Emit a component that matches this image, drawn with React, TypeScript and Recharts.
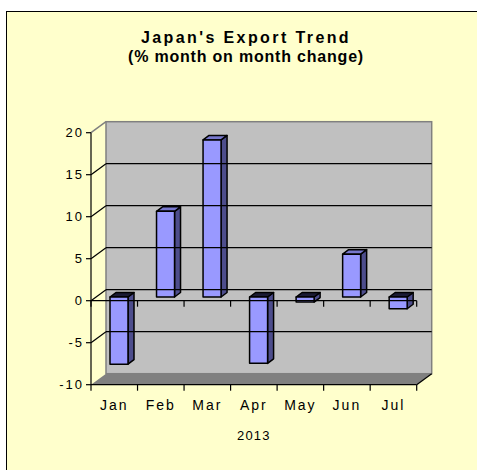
import { BarChart, Bar, XAxis, YAxis, ReferenceArea, ReferenceLine } from "recharts";

const months = ["Jan", "Feb", "Mar", "Apr", "May", "Jun", "Jul"];
const exportChange = [-8.0, 10.2, 18.7, -7.9, -0.6, 5.1, -1.4];
const yTicks = [-10, -5, 0, 5, 10, 15, 20];
const gridValues = [-5, 0, 5, 10, 15];
const edgeTicks = [0, 1, 2, 3, 4, 5, 6, 7];
const xTitle = "2013";

const data = months.map((m, i) => ({ month: m, value: exportChange[i] }));

// depth of the 3d box (back wall offset) and of each bar
const DX = 15;
const DY = -11;
const BAR_SHIFT_X = 5;
const BAR_SHIFT_Y = -3.7;
const BAR_DX = 6;
const BAR_DY = -4.5;

const font = "'Liberation Sans', Arial, sans-serif";

function BackWall(p: any) {
  const { x, y, width, height } = p;
  const b = y + height;
  return (
    <g>
      <rect x={x + DX} y={y + DY} width={width} height={height} fill="#C0C0C0" stroke="#808080" strokeWidth={1.5} />
      <polygon
        points={`${x},${b} ${x + width},${b} ${x + width + DX},${b + DY} ${x + DX},${b + DY}`}
        fill="#808080"
      />
      <line x1={x} y1={y} x2={x + DX} y2={y + DY} stroke="#808080" strokeWidth={1.5} />
      <line x1={x + width} y1={b} x2={x + width + DX} y2={b + DY} stroke="#000" strokeWidth={1.2} />
    </g>
  );
}

function GridLine(p: any) {
  const { x1, y1, x2, y2 } = p;
  return (
    <g>
      <line x1={x1 + DX} y1={y1 + DY} x2={x2 + DX} y2={y2 + DY} stroke="#000" strokeWidth={1.2} />
      <line x1={x1} y1={y1} x2={x1 + DX} y2={y1 + DY} stroke="#000" strokeWidth={1.2} />
    </g>
  );
}

function EdgeTick(p: any) {
  const { x1, y1 } = p;
  return <line x1={x1} y1={y1} x2={x1} y2={y1 + 6} stroke="#000" strokeWidth={1.2} />;
}

function Bar3D(p: any) {
  const { x, y, width, height, value } = p;
  const top = Math.min(y, y + height) + BAR_SHIFT_Y;
  const h = Math.abs(height);
  const l = x + BAR_SHIFT_X;
  const r = l + width;
  const neg = value < 0;
  return (
    <g stroke="#000" strokeWidth={1.5} strokeLinejoin="round">
      <polygon
        points={`${r},${top} ${r + BAR_DX},${top + BAR_DY} ${r + BAR_DX},${top + h + BAR_DY} ${r},${top + h}`}
        fill="#4D4D8C"
      />
      <polygon
        points={`${l},${top} ${l + BAR_DX},${top + BAR_DY} ${r + BAR_DX},${top + BAR_DY} ${r},${top}`}
        fill={neg ? "#1A1A33" : "#7777CC"}
      />
      <rect x={l} y={top} width={width} height={h} fill="#9999FF" />
    </g>
  );
}

export default function App() {
  return (
    <div style={{ position: "absolute", left: 0, top: 0, width: 477, height: 470, overflow: "hidden", fontFamily: font }}>
      <div
        style={{
          position: "absolute",
          left: 6,
          top: 11,
          width: 500,
          height: 500,
          background: "#FFFFCC",
          border: "1px solid #000",
        }}
      />
      <div style={{ position: "absolute", left: 0, width: 492, top: 28, textAlign: "center", fontWeight: "bold", fontSize: 16, lineHeight: "19px", color: "#000" }}>
        <div style={{ letterSpacing: 2.4 }}>Japan's Export Trend</div>
        <div style={{ letterSpacing: 0.8 }}>(% month on month change)</div>
      </div>
      <div style={{ position: "absolute", left: 0, top: 0 }}>
        <BarChart
          width={477}
          height={470}
          data={data}
          margin={{ top: 132.7, right: 60.3, bottom: 25.3, left: 51 }}
        >
          <XAxis xAxisId="a" type="number" dataKey="edge" domain={[0, 7]} height={0} allowDataOverflow hide />
          <XAxis
            xAxisId="b"
            dataKey="month"
            height={60}
            axisLine={false}
            tickLine={false}
            tickSize={0}
            tickMargin={15}
            interval={0}
            tick={{ fill: "#000", fontSize: 14, fontFamily: font, letterSpacing: 2 }}
            label={{ value: xTitle, position: "insideBottom", offset: 5, fill: "#000", fontSize: 13, fontFamily: font, letterSpacing: 1.2 }}
          />
          <YAxis
            domain={[-10, 20]}
            ticks={yTicks}
            interval={0}
            width={40}
            tickSize={5}
            tickMargin={2}
            axisLine={{ stroke: "#000", strokeWidth: 1.2 }}
            tickLine={{ stroke: "#000", strokeWidth: 1.2 }}
            tick={{ fill: "#000", fontSize: 13, fontFamily: font, letterSpacing: 2 }}
          />
          <ReferenceArea xAxisId="b" y1={-10} y2={20} shape={BackWall} ifOverflow="visible" />
          {gridValues.map((g) => (
            <ReferenceLine key={g} xAxisId="b" y={g} shape={GridLine} ifOverflow="visible" />
          ))}
          <ReferenceLine xAxisId="b" y={0} stroke="#000" strokeWidth={1.2} />
          <ReferenceLine xAxisId="b" y={-10} stroke="#000" strokeWidth={1.2} ifOverflow="visible" />
          {edgeTicks.map((t) => (
            <ReferenceLine key={"z" + t} xAxisId="a" segment={[{ x: t, y: 0 }, { x: t, y: -1 }]} shape={EdgeTick} ifOverflow="visible" />
          ))}
          {edgeTicks.map((t) => (
            <ReferenceLine key={"b" + t} xAxisId="a" segment={[{ x: t, y: -10 }, { x: t, y: -9 }]} shape={EdgeTick} ifOverflow="visible" />
          ))}
          <Bar xAxisId="b" dataKey="value" barSize={18} shape={Bar3D} isAnimationActive={false} />
        </BarChart>
      </div>
    </div>
  );
}
